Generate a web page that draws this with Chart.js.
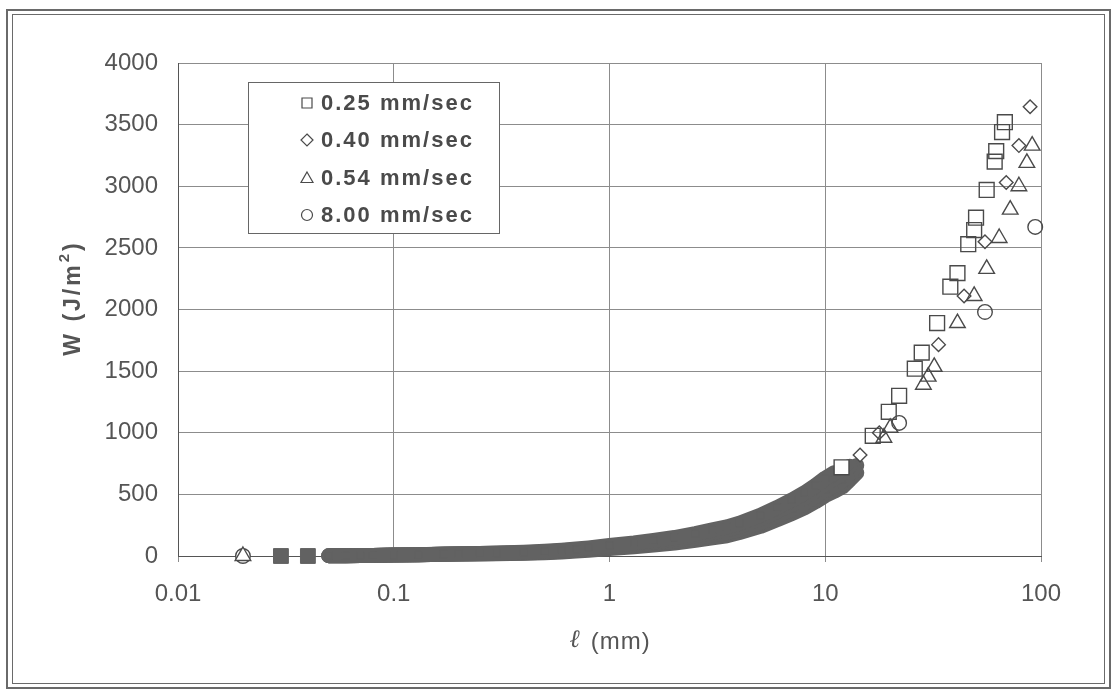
<!DOCTYPE html>
<html>
<head>
<meta charset="utf-8">
<script src="https://cdn.jsdelivr.net/npm/chart.js@4.4.1/dist/chart.umd.min.js"></script>
<style>
  html, body { margin: 0; padding: 0; background: #fff; }
  #wrap { width: 1113px; height: 696px; }
</style>
</head>
<body>
<div id="wrap"><canvas id="chart" width="1113" height="696"></canvas></div>
<script>
const seriesNames = ["0.25 mm/sec", "0.40 mm/sec", "0.54 mm/sec", "8.00 mm/sec"];
const seriesShapes = ["rect", "rectRot", "triangle", "circle"];
const seriesRadius = [10.5, 6.8, 9, 7.3];

const xTicks = [0.01, 0.1, 1, 10, 100];
const xTickLabels = ["0.01", "0.1", "1", "10", "100"];
const yTicks = [0, 500, 1000, 1500, 2000, 2500, 3000, 3500, 4000];

const xTitle = "(mm)";
const yTitle = "W (J/m";

// dense part: markers overlap so much they print as a solid band
const bandL = [0.03, 0.04, 0.05, 0.06, 0.07, 0.08, 0.1, 0.13, 0.17, 0.2, 0.25, 0.3, 0.4, 0.5, 0.6, 0.7, 0.8,
  1, 1.3, 1.6, 2, 2.5, 3, 3.5, 4, 5, 6, 7, 8, 9, 10, 11, 12, 13, 14];
const bandW025 = [0, 0, 2, 3, 4, 5, 8, 11, 16, 18, 21, 24, 30, 38, 47, 56, 66,
  86, 106, 127, 150, 182, 212, 236, 266, 330, 395, 455, 512, 572, 632, 675, null, null, null];
const bandW040 = [null, null, 2, 3, 4, 5, 8, 11, 15, 17, 20, 22, 27, 33, 42, 50, 58,
  77, 95, 114, 136, 165, 191, 212, 241, 300, 362, 420, 472, 528, 585, 628, 668, 728, null];
const bandW054 = [null, null, 2, 3, 4, 5, 8, 11, 15, 17, 18, 20, 25, 31, 38, 46, 54,
  70, 86, 103, 122, 147, 170, 190, 216, 270, 328, 380, 428, 482, 535, 572, 612, 672, 735];
const bandW800 = [null, null, 2, 3, 4, 5, 8, 11, 14, 16, 17, 19, 22, 27, 33, 40, 47,
  60, 74, 88, 105, 128, 148, 164, 190, 240, 295, 345, 390, 440, 490, 525, 560, 618, 675];

// scattered points
const tailL025 = [11.9, 16.6, 19.7, 22, 26, 28, 33, 38, 41, 46, 49, 50, 56, 61, 62, 66, 68];
const tailW025 = [720, 975, 1170, 1300, 1520, 1650, 1890, 2185, 2295, 2530, 2645, 2745, 2970, 3200, 3285, 3440, 3520];
const tailL040 = [14.5, 17.8, 33.5, 44, 55, 69, 79, 89];
const tailW040 = [820, 1000, 1715, 2110, 2550, 3030, 3330, 3645];
const tailL054 = [0.02, 18.7, 20, 28.5, 30, 32, 41, 49, 56, 64, 72, 79, 86, 91];
const tailW054 = [0, 960, 1040, 1390, 1455, 1535, 1890, 2110, 2330, 2580, 2810, 3000, 3190, 3330];
const tailL800 = [0.02, 22, 55, 94];
const tailW800 = [0, 1080, 1980, 2670];

const bandColor = "#626262";
const markColor = "#4a4a4a";
const textColor = "#555";
const font = "'Liberation Sans', Arial, sans-serif";

const pts = (xs, ys) => xs.map((x, i) => ({ x, y: ys[i] }));

const bands = [bandW025, bandW040, bandW054, bandW800];
const tails = [[tailL025, tailW025], [tailL040, tailW040], [tailL054, tailW054], [tailL800, tailW800]];

const datasets = [];
seriesNames.forEach((name, i) => {
  datasets.push({
    label: name,
    data: pts(bandL, bands[i]),
    clip: false,
    showLine: true,
    borderColor: bandColor,
    borderWidth: 15,
    borderJoinStyle: "round",
    borderCapStyle: "round",
    segment: { borderColor: c => c.p0.parsed.x < 0.045 ? "rgba(0,0,0,0)" : undefined },
    pointStyle: seriesShapes[i],
    // isolated marks at the far left keep full size, the rest hide inside the band
    pointRadius: c => (c.raw && c.raw.x < 0.045) ? seriesRadius[i] : 5,
    pointBackgroundColor: bandColor,
    pointBorderColor: bandColor,
    pointBorderWidth: 1,
    order: 2
  });
  datasets.push({
    label: name,
    data: pts(tails[i][0], tails[i][1]),
    clip: false,
    showLine: false,
    pointStyle: seriesShapes[i],
    pointRadius: seriesRadius[i],
    pointBorderColor: markColor,
    pointBorderWidth: 1.4,
    pointBackgroundColor: c => (c.raw && c.raw.x < 16) ? "#fff" : "rgba(0,0,0,0)",
    order: 1
  });
});

function drawSymbol(ctx, shape, x, y) {
  ctx.beginPath();
  if (shape === "rect") {
    ctx.rect(x - 5, y - 5, 10, 10);
  } else if (shape === "rectRot") {
    ctx.moveTo(x, y - 6); ctx.lineTo(x + 6, y); ctx.lineTo(x, y + 6); ctx.lineTo(x - 6, y); ctx.closePath();
  } else if (shape === "triangle") {
    ctx.moveTo(x, y - 6); ctx.lineTo(x + 6, y + 4.5); ctx.lineTo(x - 6, y + 4.5); ctx.closePath();
  } else {
    ctx.arc(x, y, 5.5, 0, Math.PI * 2);
  }
  ctx.stroke();
}

const decor = {
  id: "decor",
  beforeDraw(chart) {
    const ctx = chart.ctx;
    ctx.save();
    ctx.fillStyle = "#fff";
    ctx.fillRect(0, 0, chart.width, chart.height);
    ctx.strokeStyle = "#6a6a6a";
    ctx.lineWidth = 2;
    ctx.strokeRect(7, 10, 1103, 678);
    ctx.lineWidth = 1;
    ctx.strokeRect(12.5, 14.5, 1092, 669);
    ctx.restore();
  },
  afterDraw(chart) {
    const ctx = chart.ctx;
    ctx.save();
    // legend box
    ctx.fillStyle = "#fff";
    ctx.fillRect(248, 82, 252, 151);
    ctx.strokeStyle = "#666";
    ctx.lineWidth = 1;
    ctx.strokeRect(248.5, 82.5, 251, 151);
    const rows = [103, 140, 178, 215];
    ctx.font = "bold 22px " + font;
    ctx.letterSpacing = "2px";
    ctx.fillStyle = "#4a4a4a";
    ctx.textBaseline = "middle";
    ctx.textAlign = "left";
    seriesNames.forEach((name, i) => {
      ctx.strokeStyle = markColor;
      ctx.lineWidth = 1.2;
      drawSymbol(ctx, seriesShapes[i], 307, rows[i]);
      ctx.fillText(name, 321, rows[i] + 1);
    });

    // y title
    ctx.save();
    ctx.letterSpacing = "3px";
    ctx.translate(74, 298);
    ctx.rotate(-Math.PI / 2);
    ctx.font = "bold 23px " + font;
    const w1 = ctx.measureText(yTitle).width;
    ctx.font = "bold 15px " + font;
    const w2 = ctx.measureText("2").width;
    ctx.font = "bold 23px " + font;
    const w3 = ctx.measureText(")").width;
    let x0 = -(w1 + w2 + w3) / 2;
    ctx.fillStyle = textColor;
    ctx.textAlign = "left";
    ctx.textBaseline = "middle";
    ctx.fillText(yTitle, x0, 0);
    ctx.font = "bold 15px " + font;
    ctx.fillText("2", x0 + w1, -9);
    ctx.font = "bold 23px " + font;
    ctx.fillText(")", x0 + w1 + w2, 0);
    ctx.restore();

    // x title
    ctx.letterSpacing = "1px";
    ctx.fillStyle = textColor;
    ctx.textBaseline = "middle";
    ctx.textAlign = "left";
    ctx.font = "italic 25px 'DejaVu Serif', serif";
    const lw = ctx.measureText("\u2113").width;
    ctx.font = "24px " + font;
    const mw = ctx.measureText(xTitle).width;
    const sx = 610 - (lw + 10 + mw) / 2;
    ctx.font = "italic 25px 'DejaVu Serif', serif";
    ctx.fillText("\u2113", sx, 640);
    ctx.font = "24px " + font;
    ctx.fillText(xTitle, sx + lw + 10, 642);
    ctx.restore();
  }
};

new Chart(document.getElementById("chart"), {
  type: "scatter",
  data: { datasets },
  options: {
    responsive: false,
    animation: false,
    devicePixelRatio: 1,
    layout: { padding: { left: 0, top: 63, right: 72, bottom: 0 } },
    plugins: { legend: { display: false }, tooltip: { enabled: false } },
    scales: {
      x: {
        type: "logarithmic",
        min: 0.01,
        max: 100,
        afterBuildTicks: s => { s.ticks = xTicks.map(v => ({ value: v })); },
        afterFit: s => { s.height = 140; },
        ticks: {
          callback: v => xTickLabels[xTicks.indexOf(v)],
          color: textColor,
          font: { family: font, size: 24 },
          padding: 18,
          maxRotation: 0,
          autoSkip: false
        },
        grid: { color: "#8c8c8c", lineWidth: 1, tickLength: 6, drawTicks: true },
        border: { color: "#555", width: 1 }
      },
      y: {
        min: 0,
        max: 4000,
        afterBuildTicks: s => { s.ticks = yTicks.map(v => ({ value: v })); },
        afterFit: s => { s.width = 178; },
        ticks: {
          callback: v => String(v),
          color: textColor,
          font: { family: font, size: 24 },
          padding: 20
        },
        grid: { color: "#8c8c8c", lineWidth: 1, drawTicks: false },
        border: { color: "#555", width: 1 }
      }
    }
  },
  plugins: [decor]
});
</script>
</body>
</html>
